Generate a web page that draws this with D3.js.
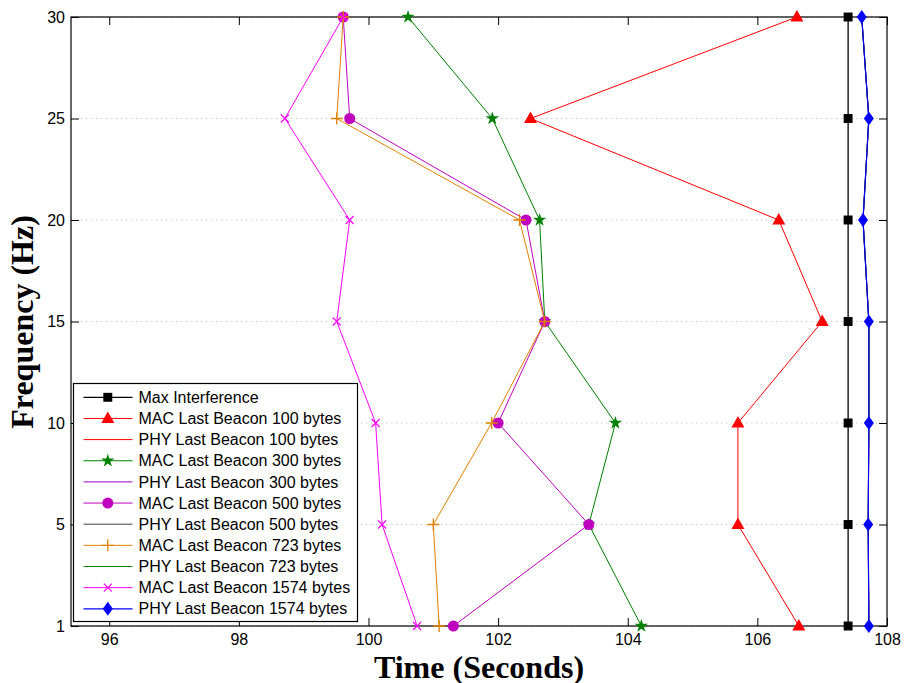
<!DOCTYPE html>
<html>
<head>
<meta charset="utf-8">
<script src="https://cdn.jsdelivr.net/npm/d3@7"></script>
<style>
  html, body { margin: 0; padding: 0; background: #fff; }
  svg { display: block; }
</style>
</head>
<body>
<svg id="chart" width="905" height="683"></svg>
<script>
// ---- Data ----
const frequencies = ["1", "5", "10", "15", "20", "25", "30"];
const xTicks = [96, 98, 100, 102, 104, 106, 108];

const maxInterference   = [107.40, 107.40, 107.40, 107.40, 107.40, 107.40, 107.40];
const macBeacon100      = [106.64, 105.70, 105.70, 107.00, 106.33, 102.50, 106.61];
const phyBeacon100      = [107.72, 107.71, 107.72, 107.72, 107.63, 107.72, 107.61];
const macBeacon300      = [104.21, 103.40, 103.81, 102.72, 102.64, 101.91, 100.61];
const phyBeacon300      = [107.72, 107.71, 107.72, 107.72, 107.63, 107.72, 107.61];
const macBeacon500      = [101.31, 103.40, 102.00, 102.72, 102.43, 99.71, 99.61];
const phyBeacon500      = [107.72, 107.71, 107.72, 107.72, 107.63, 107.72, 107.61];
const macBeacon723      = [101.09, 101.00, 101.90, 102.72, 102.33, 99.51, 99.61];
const phyBeacon723      = [107.72, 107.71, 107.72, 107.72, 107.63, 107.72, 107.61];
const macBeacon1574     = [100.75, 100.21, 100.11, 99.51, 99.71, 98.71, 99.61];
const phyBeacon1574     = [107.72, 107.71, 107.72, 107.72, 107.63, 107.72, 107.61];

const seriesNames = [
  "Max Interference",
  "MAC Last Beacon 100 bytes",
  "PHY Last Beacon 100 bytes",
  "MAC Last Beacon 300 bytes",
  "PHY Last Beacon 300 bytes",
  "MAC Last Beacon 500 bytes",
  "PHY Last Beacon 500 bytes",
  "MAC Last Beacon 723 bytes",
  "PHY Last Beacon 723 bytes",
  "MAC Last Beacon 1574 bytes",
  "PHY Last Beacon 1574 bytes"
];
const seriesValues = [maxInterference, macBeacon100, phyBeacon100, macBeacon300, phyBeacon300,
  macBeacon500, phyBeacon500, macBeacon723, phyBeacon723, macBeacon1574, phyBeacon1574];

// ---- Styles ----
const styles = [
  { color: "#000000", marker: "square",  width: 1.3 },
  { color: "#ff0000", marker: "triangle", width: 1 },
  { color: "#ff0000", marker: null,      width: 1 },
  { color: "#008000", marker: "star",    width: 1 },
  { color: "#a000c0", marker: null,      width: 1 },
  { color: "#bf00bf", marker: "circle",  width: 1 },
  { color: "#404040", marker: null,      width: 1 },
  { color: "#e08000", marker: "plus",    width: 1 },
  { color: "#008000", marker: null,      width: 1 },
  { color: "#ff00ff", marker: "cross",   width: 1 },
  { color: "#0000ff", marker: "diamond", width: 1.2 }
];

const SANS = "Helvetica, Arial, 'Liberation Sans', sans-serif";
const SERIF = "'Times New Roman', 'Liberation Serif', serif";

const svg = d3.select("#chart");
const L = 71, R = 887, T = 17, B = 626;

const x = d3.scaleLinear().domain([95.41, 108]).range([L, R]);
const y = d3.scalePoint().domain(frequencies).range([B, T]).padding(0);

// grid
svg.append("g").selectAll("line").data(frequencies).join("line")
  .attr("x1", L).attr("x2", R)
  .attr("y1", d => y(d)).attr("y2", d => y(d))
  .attr("stroke", "#c8c8c8").attr("stroke-width", 1)
  .attr("stroke-dasharray", "1.5,3.5");

// axes
const axisStyle = g => {
  g.select(".domain").remove();
  g.selectAll(".tick line").attr("stroke", "#000").attr("stroke-width", 1);
  g.selectAll(".tick text").style("font-size", "16px").attr("fill", "#000")
    .style("font-family", SANS);
};
svg.append("g").attr("transform", `translate(0,${B})`)
  .call(d3.axisBottom(x).tickValues(xTicks).tickFormat(d3.format("d")).tickSizeInner(-8).tickSizeOuter(0).tickPadding(8))
  .call(axisStyle);
svg.append("g").attr("transform", `translate(0,${T})`)
  .call(d3.axisTop(x).tickValues(xTicks).tickFormat("").tickSizeInner(-8).tickSizeOuter(0))
  .call(axisStyle);
svg.append("g").attr("transform", `translate(${L},0)`)
  .call(d3.axisLeft(y).tickSizeInner(-8).tickSizeOuter(0).tickPadding(6))
  .call(axisStyle);
svg.append("g").attr("transform", `translate(${R},0)`)
  .call(d3.axisRight(y).tickFormat("").tickSizeInner(-8).tickSizeOuter(0))
  .call(axisStyle);

// frame
svg.append("rect").attr("x", L).attr("y", T).attr("width", R - L).attr("height", B - T)
  .attr("fill", "none").attr("stroke", "#000").attr("stroke-width", 1.2);

// marker drawing
function drawMarker(g, type, color) {
  switch (type) {
    case "square":
      g.append("path").attr("d", d3.symbol(d3.symbolSquare, 80)()).attr("fill", color);
      break;
    case "triangle":
      g.append("path").attr("d", "M0,-7L6.5,4.5L-6.5,4.5Z").attr("fill", color);
      break;
    case "star":
      g.append("path").attr("d", d3.symbol(d3.symbolStar, 55)()).attr("fill", color);
      break;
    case "circle":
      g.append("circle").attr("r", 5.5).attr("fill", color);
      break;
    case "plus":
      g.append("path").attr("d", "M-6,0H6M0,-6V6").attr("stroke", color).attr("stroke-width", 1.3).attr("fill", "none");
      break;
    case "cross":
      g.append("path").attr("d", "M-4,-4L4,4M-4,4L4,-4").attr("stroke", color).attr("stroke-width", 1.2).attr("fill", "none");
      break;
    case "diamond":
      g.append("path").attr("d", "M0,-7L5,0L0,7L-5,0Z").attr("fill", color);
      break;
  }
}

const line = d3.line().x(d => x(d.v)).y(d => y(d.f));

seriesValues.forEach((vals, i) => {
  const st = styles[i];
  const pts = vals.map((v, j) => ({ v, f: frequencies[j] }));
  const g = svg.append("g");
  g.append("path").datum(pts).attr("d", line)
    .attr("fill", "none").attr("stroke", st.color).attr("stroke-width", st.width);
  if (st.marker) {
    pts.forEach(p => {
      const mg = g.append("g").attr("transform", `translate(${x(p.v)},${y(p.f)})`);
      drawMarker(mg, st.marker, st.color);
    });
  }
});

// legend
const lg = svg.append("g");
lg.append("rect").attr("x", 73.5).attr("y", 383.5).attr("width", 284).attr("height", 238)
  .attr("fill", "#fff").attr("stroke", "#000").attr("stroke-width", 1.2);
seriesNames.forEach((name, i) => {
  const st = styles[i];
  const cy = 397.3 + i * 21.15;
  lg.append("line").attr("x1", 83.5).attr("x2", 132.5).attr("y1", cy).attr("y2", cy)
    .attr("stroke", st.color).attr("stroke-width", st.width);
  if (st.marker) {
    const mg = lg.append("g").attr("transform", `translate(107.8,${cy})`);
    drawMarker(mg, st.marker, st.color);
  }
  lg.append("text").attr("x", 138.5).attr("y", cy + 5.6)
    .style("font-size", "16px").style("font-family", SANS).attr("fill", "#000").text(name);
});

// axis titles
svg.append("text").attr("x", 479).attr("y", 677.5).attr("text-anchor", "middle")
  .style("font-family", SERIF).style("font-weight", "bold")
  .style("font-size", "32px").attr("fill", "#000").text("Time (Seconds)");
svg.append("text").attr("transform", "translate(33,322) rotate(-90)").attr("text-anchor", "middle")
  .style("font-family", SERIF).style("font-weight", "bold")
  .style("font-size", "32px").attr("fill", "#000").text("Frequency (Hz)");
</script>
</body>
</html>
